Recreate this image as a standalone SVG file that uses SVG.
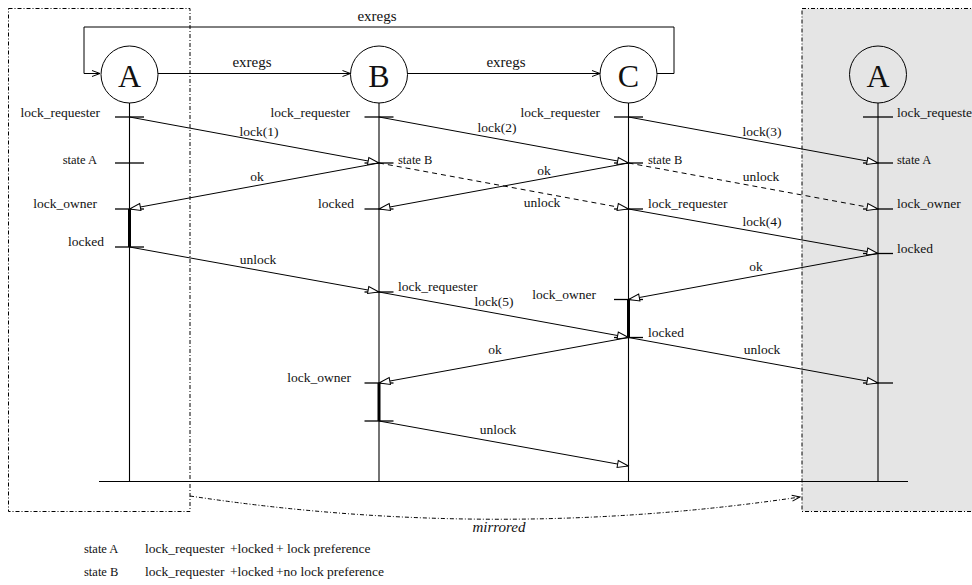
<svg xmlns="http://www.w3.org/2000/svg" width="972" height="585" viewBox="0 0 972 585" font-family="Liberation Serif, DejaVu Serif, serif">
<defs>
<marker id="tri" viewBox="-12 -5 13 10" refX="0" refY="0" markerWidth="13" markerHeight="10" markerUnits="userSpaceOnUse" orient="auto">
<path d="M0,0 L-11,-3.5 L-11,3.5 Z" fill="#fff" stroke="#000" stroke-width="1"/>
</marker>
<marker id="chev" viewBox="-10 -5 11 10" refX="0" refY="0" markerWidth="11" markerHeight="10" markerUnits="userSpaceOnUse" orient="auto">
<path d="M-8,-3 L0,0 L-8,3" fill="none" stroke="#000" stroke-width="1"/>
</marker>
</defs>
<style>
text{fill:#111}
.lbl{font-size:13.5px}
.st{font-size:12.5px}
.big{font-size:32px}
.ex{font-size:15px}
.e{text-anchor:end}
.m{text-anchor:middle}
.life{stroke:#000;stroke-width:1.1}
.tick{stroke:#000;stroke-width:1.3}
.bar{stroke:#000;stroke-width:3}
.circ{fill:none;stroke:#000;stroke-width:1}
.msg{stroke:#000;stroke-width:1;fill:none;marker-end:url(#tri)}
.ar{stroke:#000;stroke-width:1;fill:none;marker-end:url(#chev)}
.dash{stroke-dasharray:5 4}
.box{stroke:#000;stroke-width:1;stroke-dasharray:4 2 1 2}
</style>
<g id="frames">
<rect x="802" y="8.5" width="175" height="503" fill="#e5e5e5" class="box"/>
<rect x="8.5" y="8.5" width="181.5" height="503" fill="none" class="box"/>
<line x1="99" y1="481.5" x2="908" y2="481.5" stroke="#000" stroke-width="1.1"/>
</g>
<g id="node-A">
<circle cx="129.5" cy="74.5" r="28.5" class="circ"/>
<text x="129.5" y="86.5" class="big m">A</text>
<line x1="129.5" y1="103" x2="129.5" y2="481.5" class="life"/>
<line x1="129.5" y1="209" x2="129.5" y2="247" class="bar"/>
<g class="tick"><line x1="115" y1="117" x2="144" y2="117"/><line x1="115" y1="163" x2="144" y2="163"/><line x1="115" y1="209" x2="144" y2="209"/><line x1="115" y1="247" x2="144" y2="247"/></g>
<text x="100" y="117" class="lbl e">lock_requester</text>
<text x="97" y="164" class="st e">state A</text>
<text x="97" y="208" class="lbl e">lock_owner</text>
<text x="104" y="246" class="lbl e">locked</text>
</g>
<g id="node-B">
<circle cx="379" cy="74.5" r="28.5" class="circ"/>
<text x="379" y="86.5" class="big m">B</text>
<line x1="379" y1="103" x2="379" y2="481.5" class="life"/>
<line x1="379" y1="383" x2="379" y2="421" class="bar"/>
<g class="tick"><line x1="364.5" y1="117" x2="393.5" y2="117"/><line x1="364.5" y1="163" x2="393.5" y2="163"/><line x1="364.5" y1="209" x2="393.5" y2="209"/><line x1="364.5" y1="292" x2="393.5" y2="292"/><line x1="364.5" y1="383" x2="393.5" y2="383"/><line x1="364.5" y1="421" x2="393.5" y2="421"/></g>
<text x="350" y="117" class="lbl e">lock_requester</text>
<text x="398" y="164" class="st">state B</text>
<text x="354" y="208" class="lbl e">locked</text>
<text x="398" y="291" class="lbl">lock_requester</text>
<text x="351" y="382" class="lbl e">lock_owner</text>
</g>
<g id="node-C">
<circle cx="628.5" cy="74.5" r="28.5" class="circ"/>
<text x="628.5" y="86.5" class="big m">C</text>
<line x1="628.5" y1="103" x2="628.5" y2="481.5" class="life"/>
<line x1="628.5" y1="299.5" x2="628.5" y2="337.5" class="bar"/>
<g class="tick"><line x1="614" y1="117" x2="643" y2="117"/><line x1="614" y1="163" x2="643" y2="163"/><line x1="614" y1="209" x2="643" y2="209"/><line x1="614" y1="299.5" x2="643" y2="299.5"/><line x1="614" y1="337.5" x2="643" y2="337.5"/></g>
<text x="600" y="117" class="lbl e">lock_requester</text>
<text x="648" y="164" class="st">state B</text>
<text x="648" y="208" class="lbl">lock_requester</text>
<text x="596" y="298.5" class="lbl e">lock_owner</text>
<text x="648" y="337" class="lbl">locked</text>
</g>
<g id="node-A-mirror">
<circle cx="878" cy="74.5" r="28.5" class="circ"/>
<text x="878" y="86.5" class="big m">A</text>
<line x1="878" y1="103" x2="878" y2="481.5" class="life"/>
<g class="tick"><line x1="863" y1="117" x2="893" y2="117"/><line x1="863" y1="163" x2="893" y2="163"/><line x1="863" y1="209" x2="893" y2="209"/><line x1="863" y1="253.5" x2="893" y2="253.5"/><line x1="863" y1="383" x2="893" y2="383"/></g>
<text x="897" y="117" class="lbl">lock_requester</text>
<text x="897" y="164" class="st">state A</text>
<text x="897" y="208" class="lbl">lock_owner</text>
<text x="897" y="253" class="lbl">locked</text>
</g>
<g id="connectors">
<path d="M657,73.5 H674 V27 H84 V73.5 H100" class="ar"/>
<text x="377" y="21" class="ex m">exregs</text>
<line x1="158" y1="73.5" x2="350.5" y2="73.5" class="ar"/>
<text x="252" y="67" class="ex m">exregs</text>
<line x1="407.5" y1="73.5" x2="600" y2="73.5" class="ar"/>
<text x="506" y="67" class="ex m">exregs</text>
<line x1="129.5" y1="117" x2="379" y2="163" class="msg"/>
<text x="259" y="136" class="lbl m">lock(1)</text>
<line x1="379" y1="117" x2="628.5" y2="163" class="msg"/>
<text x="497" y="132" class="lbl m">lock(2)</text>
<line x1="628.5" y1="117" x2="878" y2="163" class="msg"/>
<text x="762" y="136" class="lbl m">lock(3)</text>
<line x1="379" y1="163" x2="129.5" y2="209" class="msg"/>
<text x="257" y="181" class="lbl m">ok</text>
<line x1="628.5" y1="163" x2="379" y2="209" class="msg"/>
<text x="544" y="175" class="lbl m">ok</text>
<line x1="379" y1="163" x2="628.5" y2="209" class="msg dash"/>
<text x="542" y="207" class="lbl m">unlock</text>
<line x1="628.5" y1="163" x2="878" y2="209" class="msg dash"/>
<text x="761" y="181" class="lbl m">unlock</text>
<line x1="628.5" y1="209" x2="878" y2="253.5" class="msg"/>
<text x="762" y="226" class="lbl m">lock(4)</text>
<line x1="878" y1="253.5" x2="628.5" y2="299.5" class="msg"/>
<text x="756" y="271" class="lbl m">ok</text>
<line x1="129.5" y1="247" x2="379" y2="292" class="msg"/>
<text x="258" y="264" class="lbl m">unlock</text>
<line x1="379" y1="292" x2="628.5" y2="337.5" class="msg"/>
<text x="494" y="306" class="lbl m">lock(5)</text>
<line x1="628.5" y1="337.5" x2="379" y2="383" class="msg"/>
<text x="495" y="354" class="lbl m">ok</text>
<line x1="628.5" y1="337.5" x2="878" y2="383" class="msg"/>
<text x="762" y="354" class="lbl m">unlock</text>
<line x1="379" y1="421" x2="628.5" y2="466" class="msg"/>
<text x="498" y="434" class="lbl m">unlock</text>
<path d="M190,496 Q495,542 800,497" class="ar" stroke-dasharray="4 2 1 2"/>
<text x="499" y="532" class="ex m" font-style="italic">mirrored</text>
</g>
<g id="legend">
<text x="84" y="553" class="st">state A</text>
<text y="553" class="lbl"><tspan x="145">lock_requester</tspan><tspan x="230">+locked</tspan><tspan x="276">+ lock preference</tspan></text>
<text x="84" y="576" class="st">state B</text>
<text y="576" class="lbl"><tspan x="145">lock_requester</tspan><tspan x="230">+locked</tspan><tspan x="276">+no lock preference</tspan></text>
</g>
</svg>
